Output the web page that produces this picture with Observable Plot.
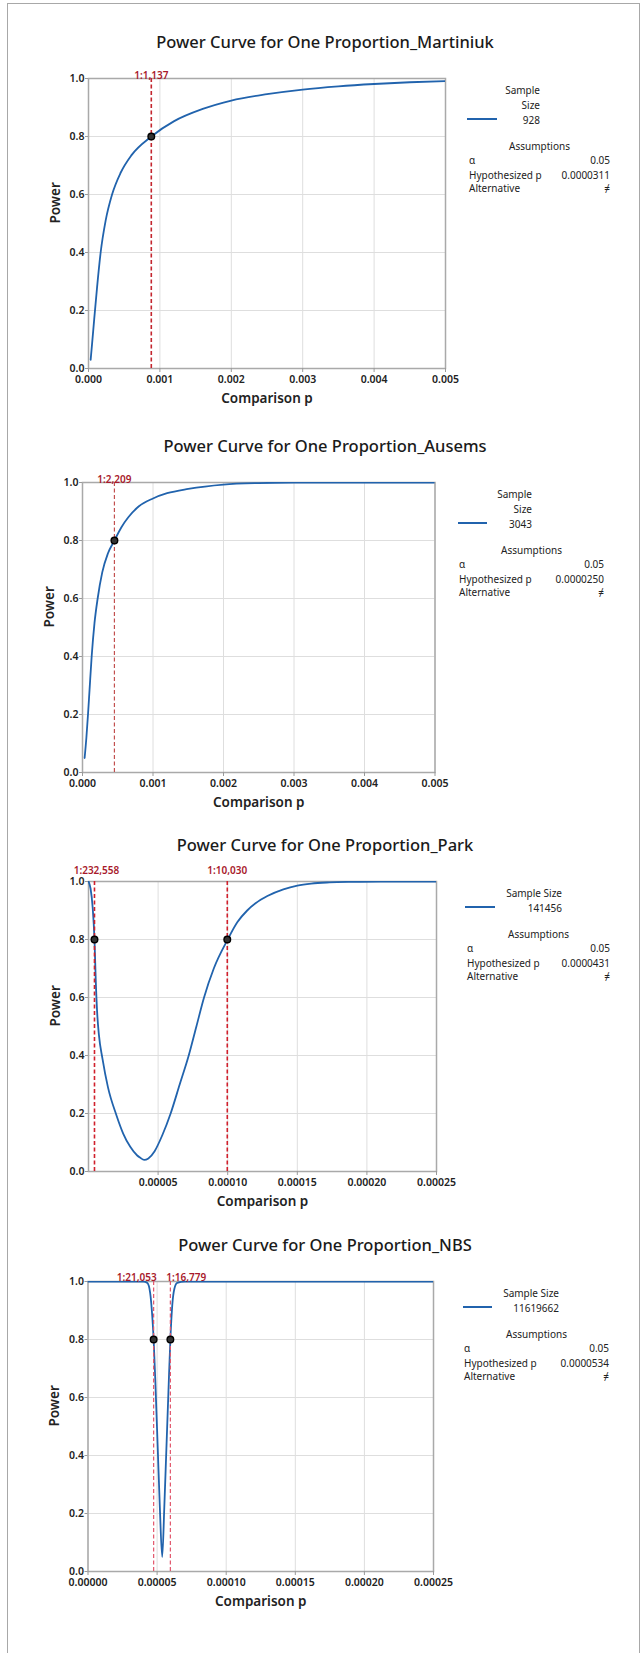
<!DOCTYPE html>
<html>
<head>
<meta charset="utf-8">
<script src="https://cdn.jsdelivr.net/npm/d3@7"></script>
<script src="https://cdn.jsdelivr.net/npm/@observablehq/plot@0.6"></script>
<style>
  body { margin: 0; background: #fff; font-family: "Noto Sans", sans-serif; }
  #page { position: relative; width: 644px; height: 1653px; overflow: hidden; background: #fff; }
  #border { position: absolute; left: 7px; top: 3px; width: 633px; height: 1700px; border: 1.5px solid #a8a8a8; box-sizing: border-box; }
  .title { position: absolute; left: 0; width: 650px; text-align: center; font-size: 16.5px; font-weight: 500; color: #1a1a1a; line-height: 20px; white-space: nowrap; }
  .plot { position: absolute; left: 0; }
  .lg { position: absolute; font-size: 10px; color: #222; line-height: 14px; white-space: nowrap; }
  .lgline { position: absolute; height: 2px; background: #2a6ab3; }
</style>
</head>
<body>
<div id="page"><div id="border"></div></div>
<script>
// Power curves (comparison p vs. power) for each study
const martiniukP     = [0.00003, 0.00005, 0.00008, 0.00012, 0.00017, 0.00024, 0.00033, 0.00045, 0.0006, 0.00088, 0.0012, 0.0016, 0.002, 0.0025, 0.003, 0.0035, 0.004, 0.0045, 0.005];
const martiniukPower = [0.03, 0.085, 0.17, 0.28, 0.40, 0.51, 0.60, 0.675, 0.735, 0.80, 0.853, 0.895, 0.924, 0.946, 0.962, 0.973, 0.981, 0.987, 0.991];

const ausemsP     = [0.00003, 0.000055, 0.000078, 0.0001, 0.00013, 0.00017, 0.000215, 0.00028, 0.00036, 0.000453, 0.00055, 0.00065, 0.0008, 0.001, 0.0012, 0.0015, 0.002, 0.0025, 0.003, 0.004, 0.005];
const ausemsPower = [0.05, 0.12, 0.20, 0.285, 0.40, 0.515, 0.60, 0.69, 0.755, 0.80, 0.845, 0.88, 0.918, 0.945, 0.963, 0.978, 0.993, 0.998, 0.9995, 1, 1];

const parkP     = [0, 0.0000015, 0.000003, 0.0000043, 0.0000052, 0.0000062, 0.0000075, 0.00001, 0.000014, 0.00002, 0.000025, 0.00003, 0.000035, 0.000037, 0.00004, 0.000043, 0.0000475, 0.000053, 0.000059, 0.0000655, 0.000072, 0.0000775, 0.000083, 0.00009, 0.0001, 0.000107, 0.000114, 0.00012, 0.0001285, 0.00014, 0.00015, 0.00016, 0.000173, 0.00019, 0.00021, 0.00025];
const parkPower = [1.0, 0.975, 0.91, 0.80, 0.66, 0.55, 0.47, 0.39, 0.29, 0.195, 0.13, 0.085, 0.055, 0.048, 0.04, 0.045, 0.07, 0.125, 0.20, 0.30, 0.40, 0.50, 0.60, 0.70, 0.80, 0.86, 0.90, 0.925, 0.95, 0.973, 0.986, 0.993, 0.997, 0.999, 1.0, 1.0];

const nbsP     = [0, 0.00004, 0.000043, 0.000045, 0.0000465, 0.0000475, 0.000049, 0.0000505, 0.000052, 0.0000537, 0.0000552, 0.0000567, 0.0000582, 0.0000596, 0.000061, 0.0000625, 0.0000645, 0.00007, 0.00025];
const nbsPower = [1, 1, 0.995, 0.96, 0.88, 0.80, 0.62, 0.42, 0.22, 0.05, 0.22, 0.42, 0.62, 0.80, 0.92, 0.975, 0.995, 1, 1];

// Detectable ratios (1 in N) at the target power
const martiniukRatios = [1137];
const ausemsRatios    = [2209];
const parkRatios      = [232558, 10030];
const nbsRatios       = [21053, 16779];
const targetPower = 0.8;

// Axis ticks
const wideTicks   = [0, 0.001, 0.002, 0.003, 0.004, 0.005];
const narrowTicks = [0, 0.00005, 0.0001, 0.00015, 0.0002, 0.00025];
const parkTickLabels = [0.00005, 0.0001, 0.00015, 0.0002, 0.00025];
const powerTicks  = [0, 0.2, 0.4, 0.6, 0.8, 1.0];
const powerGrid   = [0.2, 0.4, 0.6, 0.8];

// Legend content
const sampleSizes = ["928", "3043", "141456", "11619662"];
const hypothesizedP = ["0.0000311", "0.0000250", "0.0000431", "0.0000534"];
const alpha = "0.05";

const BLUE = "#2163ad";
const FONT = '"Noto Sans", sans-serif';

const panels = [
  { title: "Power Curve for One Proportion_Martiniuk", frameTop: 78, left: 88, right: 445,
    xMax: 0.005, grid: wideTicks, labels: wideTicks, fmt: ".3f",
    p: martiniukP, power: martiniukPower, ratios: martiniukRatios,
    anchors: ["middle"], dxs: [0], dy: -7, refColor: "#c3262f", refWidth: 1.6,
    sample: sampleSizes[0], hyp: hypothesizedP[0], split: true,
    lg: { x0: 467, x1: 497, hr: 540, tl: 469, tr: 610 } },
  { title: "Power Curve for One Proportion_Ausems", frameTop: 482, left: 82, right: 434.5,
    xMax: 0.005, grid: wideTicks, labels: wideTicks, fmt: ".3f",
    p: ausemsP, power: ausemsPower, ratios: ausemsRatios,
    anchors: ["middle"], dxs: [0], dy: -7, refColor: "#c2504f", refWidth: 1.2,
    sample: sampleSizes[1], hyp: hypothesizedP[1], split: true,
    lg: { x0: 458, x1: 487, hr: 532, tl: 459, tr: 604 } },
  { title: "Power Curve for One Proportion_Park", frameTop: 881, left: 88, right: 436,
    xMax: 0.00025, grid: narrowTicks, labels: parkTickLabels, fmt: ".5f",
    p: parkP, power: parkPower, ratios: parkRatios,
    anchors: ["middle", "middle"], dxs: [2, 0], dy: -15, refColor: "#d0202c", refWidth: 1.6,
    sample: sampleSizes[2], hyp: hypothesizedP[2], split: false,
    lg: { x0: 465, x1: 495, hr: 562, tl: 467, tr: 610 } },
  { title: "Power Curve for One Proportion_NBS", frameTop: 1281, left: 87.5, right: 433,
    xMax: 0.00025, grid: narrowTicks, labels: narrowTicks, fmt: ".5f",
    p: nbsP, power: nbsPower, ratios: nbsRatios,
    anchors: ["end", "start"], dxs: [3, -4], dy: -8, refColor: "#e2566c", refWidth: 1.2,
    sample: sampleSizes[3], hyp: hypothesizedP[3], split: false,
    lg: { x0: 463, x1: 492, hr: 559, tl: 464, tr: 609 } }
];

const page = document.getElementById("page");
const MT = 22, PH = 290, MB = 60;

function addText(text, style) {
  const el = document.createElement("div");
  el.className = "lg";
  el.textContent = text;
  Object.assign(el.style, style);
  page.appendChild(el);
  return el;
}

for (const cfg of panels) {
  // Title
  const t = document.createElement("div");
  t.className = "title";
  t.textContent = cfg.title;
  t.style.top = (cfg.frameTop - 46) + "px";
  page.appendChild(t);

  const curve = cfg.p.map((p, i) => ({ p, power: cfg.power[i] }));
  const refs = cfg.ratios.map(r => ({ ratio: r, p: 1 / r }));

  const svg = Plot.plot({
    width: 644,
    height: MT + PH + MB,
    marginTop: MT,
    marginBottom: MB,
    marginLeft: cfg.left,
    marginRight: 644 - cfg.right,
    x: { domain: [0, cfg.xMax] },
    y: { domain: [0, 1] },
    style: { fontFamily: FONT, background: "transparent", overflow: "visible", color: "#222" },
    marks: [
      Plot.gridX(cfg.grid, { stroke: "#dedede", strokeOpacity: 1, strokeWidth: 1 }),
      Plot.gridY(powerGrid, { stroke: "#dedede", strokeOpacity: 1, strokeWidth: 1 }),
      Plot.frame({ stroke: "#a9a9a9", strokeWidth: 1.5 }),
      Plot.axisX(cfg.labels, { tickFormat: d3.format(cfg.fmt), tickSize: 4, tickPadding: 3, fontSize: 10.5, fontWeight: 600, stroke: "#9a9a9a", fill: "#222", label: null }),
      Plot.axisY(powerTicks, { tickFormat: d3.format(".1f"), tickSize: 3, tickPadding: 1, fontSize: 10.5, fontWeight: 600, stroke: "#9a9a9a", fill: "#222", label: null }),
      Plot.text(["Power"], { frameAnchor: "left", dx: -33, rotate: -90, fontSize: 13.5, fontWeight: 600, fill: "#222" }),
      Plot.text(["Comparison p"], { frameAnchor: "bottom", dy: 34, fontSize: 13.5, fontWeight: 600, fill: "#222" }),
      Plot.line(curve, { x: "p", y: "power", stroke: BLUE, strokeWidth: 1.8, curve: "monotone-x", clip: true }),
      Plot.ruleX(refs, { x: "p", stroke: cfg.refColor, strokeWidth: cfg.refWidth, strokeDasharray: "4,2.5" }),
      Plot.dot(refs, { x: "p", y: () => targetPower, r: 3.3, fill: "#333", stroke: "#000", strokeWidth: 1.4 }),
      ...refs.map((r, i) => Plot.text([r], {
        x: "p", frameAnchor: "top", dy: cfg.dy, dx: cfg.dxs[i], textAnchor: cfg.anchors[i],
        text: d => "1:" + d3.format(",")(d.ratio), fontSize: 10, fontWeight: 600, fill: "#a8192b"
      }))
    ]
  });
  svg.classList.add("plot");
  svg.style.top = (cfg.frameTop - MT) + "px";
  page.appendChild(svg);

  // Legend: sample size entry
  const g = cfg.lg, ft = cfg.frameTop;
  const head = cfg.split ? ["Sample", "Size"] : ["Sample Size"];
  head.forEach((h, i) => addText(h, { top: (ft + 5 + 15 * i) + "px", right: (644 - g.hr) + "px", textAlign: "right" }));
  const valTop = ft + 5 + 15 * head.length;
  addText(cfg.sample, { top: valTop + "px", right: (644 - g.hr) + "px", textAlign: "right" });
  const ln = document.createElement("div");
  ln.className = "lgline";
  Object.assign(ln.style, { left: g.x0 + "px", width: (g.x1 - g.x0) + "px", top: (valTop + 5) + "px", background: BLUE });
  page.appendChild(ln);

  // Legend: assumptions table
  const aTop = valTop + 26;
  const mid = (g.tl + g.tr) / 2;
  addText("Assumptions", { top: aTop + "px", left: (mid - 60) + "px", width: "120px", textAlign: "center" });
  const rows = [["α", alpha], ["Hypothesized p", cfg.hyp], ["Alternative", "≠"]];
  rows.forEach(([k, v], i) => {
    const y = aTop + 14 + [0, 15, 28][i];
    addText(k, { top: y + "px", left: g.tl + "px" });
    addText(v, { top: y + "px", right: (644 - g.tr) + "px", textAlign: "right" });
  });
}
</script>
</body>
</html>
